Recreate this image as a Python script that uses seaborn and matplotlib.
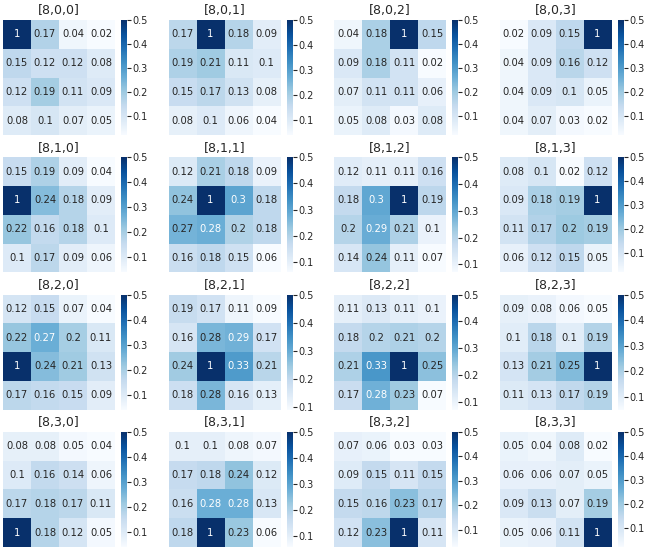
import numpy as np
import seaborn as sns
from matplotlib import pyplot as plt

sns.set_style("white")

# attention maps for head 8, one 4x4 grid per (row, col) query
m_8_0_0 = [[1, 0.17, 0.04, 0.02], [0.15, 0.12, 0.12, 0.08], [0.12, 0.19, 0.11, 0.09], [0.08, 0.1, 0.07, 0.05]]
m_8_0_1 = [[0.17, 1, 0.18, 0.09], [0.19, 0.21, 0.11, 0.1], [0.15, 0.17, 0.13, 0.08], [0.08, 0.1, 0.06, 0.04]]
m_8_0_2 = [[0.04, 0.18, 1, 0.15], [0.09, 0.18, 0.11, 0.02], [0.07, 0.11, 0.11, 0.06], [0.05, 0.08, 0.03, 0.08]]
m_8_0_3 = [[0.02, 0.09, 0.15, 1], [0.04, 0.09, 0.16, 0.12], [0.04, 0.09, 0.1, 0.05], [0.04, 0.07, 0.03, 0.02]]
m_8_1_0 = [[0.15, 0.19, 0.09, 0.04], [1, 0.24, 0.18, 0.09], [0.22, 0.16, 0.18, 0.1], [0.1, 0.17, 0.09, 0.06]]
m_8_1_1 = [[0.12, 0.21, 0.18, 0.09], [0.24, 1, 0.3, 0.18], [0.27, 0.28, 0.2, 0.18], [0.16, 0.18, 0.15, 0.06]]
m_8_1_2 = [[0.12, 0.11, 0.11, 0.16], [0.18, 0.3, 1, 0.19], [0.2, 0.29, 0.21, 0.1], [0.14, 0.24, 0.11, 0.07]]
m_8_1_3 = [[0.08, 0.1, 0.02, 0.12], [0.09, 0.18, 0.19, 1], [0.11, 0.17, 0.2, 0.19], [0.06, 0.12, 0.15, 0.05]]
m_8_2_0 = [[0.12, 0.15, 0.07, 0.04], [0.22, 0.27, 0.2, 0.11], [1, 0.24, 0.21, 0.13], [0.17, 0.16, 0.15, 0.09]]
m_8_2_1 = [[0.19, 0.17, 0.11, 0.09], [0.16, 0.28, 0.29, 0.17], [0.24, 1, 0.33, 0.21], [0.18, 0.28, 0.16, 0.13]]
m_8_2_2 = [[0.11, 0.13, 0.11, 0.1], [0.18, 0.2, 0.21, 0.2], [0.21, 0.33, 1, 0.25], [0.17, 0.28, 0.23, 0.07]]
m_8_2_3 = [[0.09, 0.08, 0.06, 0.05], [0.1, 0.18, 0.1, 0.19], [0.13, 0.21, 0.25, 1], [0.11, 0.13, 0.17, 0.19]]
m_8_3_0 = [[0.08, 0.08, 0.05, 0.04], [0.1, 0.16, 0.14, 0.06], [0.17, 0.18, 0.17, 0.11], [1, 0.18, 0.12, 0.05]]
m_8_3_1 = [[0.1, 0.1, 0.08, 0.07], [0.17, 0.18, 0.24, 0.12], [0.16, 0.28, 0.28, 0.13], [0.18, 1, 0.23, 0.06]]
m_8_3_2 = [[0.07, 0.06, 0.03, 0.03], [0.09, 0.15, 0.11, 0.15], [0.15, 0.16, 0.23, 0.17], [0.12, 0.23, 1, 0.11]]
m_8_3_3 = [[0.05, 0.04, 0.08, 0.02], [0.06, 0.06, 0.07, 0.05], [0.09, 0.13, 0.07, 0.19], [0.05, 0.06, 0.11, 1]]

maps = [
    [m_8_0_0, m_8_0_1, m_8_0_2, m_8_0_3],
    [m_8_1_0, m_8_1_1, m_8_1_2, m_8_1_3],
    [m_8_2_0, m_8_2_1, m_8_2_2, m_8_2_3],
    [m_8_3_0, m_8_3_1, m_8_3_2, m_8_3_3],
]

W, H = 654, 551
fig = plt.figure(figsize=(W / 100, H / 100), dpi=100)

# panel layout in pixels
hm_w, hm_h = 112, 115
col_step, row_step = 165.5, 137.3

for i in range(4):
    for j in range(4):
        left = 3 + col_step * j
        top = 20 + row_step * i
        ax = fig.add_axes([left / W, 1 - (top + hm_h) / H, hm_w / W, hm_h / H])
        cax = fig.add_axes([(left + hm_w + 6) / W, 1 - (top + hm_h) / H, 6 / W, hm_h / H])
        sns.heatmap(np.array(maps[i][j]),
                    ax=ax,
                    cbar_ax=cax,
                    cmap="Blues",
                    vmax=0.5,
                    annot=True,
                    annot_kws={"fontsize": 7.2},
                    xticklabels=False,
                    yticklabels=False,
                    )
        ax.set_title(f"[8,{i},{j}]", fontsize=9, pad=4)
        cax.set_yticks([0.1, 0.2, 0.3, 0.4, 0.5])
        cax.tick_params(right=True, labelsize=7, length=3, width=0.8, pad=1)

plt.savefig("out.png")
